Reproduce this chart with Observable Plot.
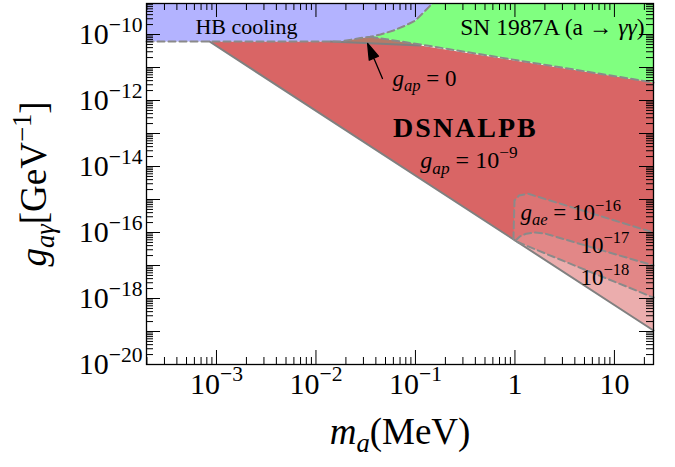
<!DOCTYPE html>
<html><head><meta charset="utf-8">
<script src="https://cdn.jsdelivr.net/npm/d3@7"></script>
<script src="https://cdn.jsdelivr.net/npm/@observablehq/plot@0.6"></script>
<style>body{margin:0;background:#fff;} svg{display:block}</style>
</head><body><div id="chart"></div>
<script>
// ---- axes (mass in MeV, coupling in GeV^-1) ----
const massDomain = [1.98e-4, 24.7];
const couplingDomain = [1e-20, 8.7e-10];
const massTicks = [1e-3, 1e-2, 1e-1, 1, 10];
const massTickLabels = ["10^{−3}", "10^{−2}", "10^{−1}", "1", "10"];
const massDecades = [1e-4, 1e-3, 1e-2, 1e-1, 1, 10];
const couplingDecades = [1e-20, 1e-19, 1e-18, 1e-17, 1e-16, 1e-15, 1e-14, 1e-13, 1e-12, 1e-11, 1e-10];
const couplingTicks = [1e-20, 1e-18, 1e-16, 1e-14, 1e-12, 1e-10];
const couplingTickLabels = ["10^{−20}", "10^{−18}", "10^{−16}", "10^{−14}", "10^{−12}", "10^{−10}"];
const minorSteps = [2, 3, 4, 5, 6, 7, 8, 9];

// ---- curves [mass, coupling] ----
const hbBoundary = [[1.98e-4, 6.14e-11], [0.0176, 6.14e-11], [0.028, 7.8e-11], [0.0353, 8.5e-11], [0.0445, 1.0e-10],
  [0.0601, 1.32e-10], [0.0793, 1.87e-10], [0.1, 2.65e-10], [0.126, 5.33e-10], [0.148, 8.7e-10]];
const hbCorner = [[1.98e-4, 8.7e-10]];
const snBoundary = [[0.0353, 8.5e-11], [0.112, 4.98e-11], [24.7, 3.51e-12]];
const snCorner = [[24.7, 8.7e-10]];
const dsnalpbLower = [[8.5e-4, 6.14e-11], [24.7, 1.07e-19]];
const dsnalpbUpper = [[8.5e-4, 6.14e-11], [0.014, 6.14e-11], [0.112, 4.65e-11], [24.7, 3.51e-12]];
const gapZeroEdge = [[0.014, 6.14e-11], [0.112, 4.65e-11]];
const gapZeroWedge = [[0.014, 6.14e-11], [0.0176, 6.14e-11], [0.028, 7.8e-11], [0.0353, 8.5e-11], [0.112, 4.98e-11], [0.112, 4.65e-11]];
const gae16 = [[0.966, 6.2e-17], [0.98, 3.3e-16], [0.99, 9.3e-16], [1.1, 1.32e-15], [1.35, 1.5e-15], [5.74, 3.9e-16], [24.7, 1.0e-16]];
const gae17 = [[1.01, 5.66e-17], [1.12, 7.6e-17], [1.3, 9.2e-17], [1.6, 1.0e-16], [2.0, 9.3e-17], [24.7, 1.0e-17]];
const gae18 = [[1.06, 5.15e-17], [5.12, 7.3e-18], [24.7, 1.07e-18]];
const lowerCorner = [[24.7, 1.07e-19]];

// ---- annotations ----
const hbLabel = [{m: 2.0e-3, g: 1.75e-10, text: "HB cooling"}];
const snLabel = [{m: 2.38, g: 1.63e-10, text: "SN 1987A (a → *γγ*)"}];
const gapZeroLabel = [{m: 0.0587, g: 4.65e-12, text: "*g*_{*ap*} = 0"}];
const gapZeroArrow = [{m: 0.0466, g: 4.65e-12}];
const titleLabel = [{m: 0.318, g: 1.42e-13, text: "DSNALPB"}];
const gapLabel = [{m: 0.112, g: 1.5e-14, text: "*g*_{*ap*} = 10^{−9}"}];
const gaeLabels = [
  {m: 1.135, g: 3.9e-16, text: "*g*_{*ae*} = 10^{−16}"},
  {m: 4.55, g: 4.1e-17, text: "10^{−17}"},
  {m: 4.55, g: 4.4e-18, text: "10^{−18}"}
];

const W = 675, H = 467, mL = 146, mR = 22, mT = 3, mB = 103;
const plotW = W - mL - mR, plotH = H - mT - mB;
const major = 14, minor = 7;
const inRange = (v, d) => v >= d[0] * 0.9999 && v <= d[1] * 1.0001;
const massMinor = massDecades.flatMap(d => minorSteps.map(k => k * d)).filter(v => inRange(v, massDomain));
const couplingMinor = couplingDecades.flatMap(d => minorSteps.map(k => k * d)).filter(v => inRange(v, couplingDomain));

const xy = {x: d => d[0], y: d => d[1]};
const poly = (pts, fill) => Plot.line(pts, {...xy, fill, stroke: "none", curve: "linear-closed"});
const dashed = pts => Plot.line(pts, {...xy, stroke: "#8a8a8a", strokeWidth: 2, strokeDasharray: "7,4"});
const solid = pts => Plot.line(pts, {...xy, stroke: "#808080", strokeWidth: 2});

const arrowShape = {
  draw(context, l) {
    const h = 16, w = 5;
    context.moveTo(0, 0);
    context.lineTo(0, -l + h);
    context.moveTo(0, -l);
    context.lineTo(-w, -l + h);
    context.lineTo(w, -l + h);
    context.closePath();
  }
};

const chart = Plot.plot({
  width: W, height: H,
  marginLeft: mL, marginRight: mR, marginTop: mT, marginBottom: mB,
  x: {type: "log", domain: massDomain, axis: null},
  y: {type: "log", domain: couplingDomain, axis: null},
  style: {fontFamily: "'Liberation Serif', serif", background: "white", color: "black"},
  marks: [
    poly([...dsnalpbUpper, ...lowerCorner], "#d96565"),
    poly([...gae16, ...lowerCorner], "#dd7373"),
    poly([...gae17, ...lowerCorner], "#e28787"),
    poly([...gae18, ...lowerCorner], "#ebadad"),
    poly(gapZeroWedge, "#b57a68"),
    poly([...snBoundary, ...snCorner, ...hbBoundary.slice(3).reverse()], "#80ff80"),
    poly([...hbBoundary, ...hbCorner], "#b3b3ff"),
    solid(dsnalpbLower),
    solid(gapZeroEdge),
    dashed(hbBoundary),
    dashed(snBoundary),
    dashed(gae16),
    dashed(gae17),
    dashed(gae18),
    Plot.frame({stroke: "black", strokeWidth: 1.3}),
    Plot.tickX(massTicks, {x: d => d, insetTop: plotH - major, stroke: "black"}),
    Plot.tickX(massTicks, {x: d => d, insetBottom: plotH - major, stroke: "black"}),
    Plot.tickX(massMinor, {x: d => d, insetTop: plotH - minor, stroke: "black"}),
    Plot.tickX(massMinor, {x: d => d, insetBottom: plotH - minor, stroke: "black"}),
    Plot.tickY(couplingDecades, {y: d => d, insetRight: plotW - major, stroke: "black"}),
    Plot.tickY(couplingDecades, {y: d => d, insetLeft: plotW - major, stroke: "black"}),
    Plot.tickY(couplingMinor, {y: d => d, insetRight: plotW - minor, stroke: "black"}),
    Plot.tickY(couplingMinor, {y: d => d, insetLeft: plotW - minor, stroke: "black"}),
    Plot.text(massTicks, {x: d => d, text: (d, i) => massTickLabels[i], frameAnchor: "bottom", dy: 29, fontSize: 30, fill: "black"}),
    Plot.text(couplingTicks, {y: d => d, text: (d, i) => couplingTickLabels[i], frameAnchor: "left", dx: -4, textAnchor: "end", fontSize: 30, fill: "black"}),
    Plot.text(["*m*_{*a*}(MeV)"], {frameAnchor: "bottom", dy: 79, fontSize: 37, textAnchor: "middle", fill: "black"}),
    Plot.text(["*g*_{*aγ*}[GeV^{−1}]"], {frameAnchor: "left", dx: -112, rotate: -90, textAnchor: "middle", fontSize: 37, fill: "black"}),
    Plot.text(hbLabel, {x: "m", y: "g", text: "text", fontSize: 22, fill: "black"}),
    Plot.text(snLabel, {x: "m", y: "g", text: "text", fontSize: 23.5, fill: "black"}),
    Plot.text(gapZeroLabel, {x: "m", y: "g", text: "text", textAnchor: "start", fontSize: 23, fill: "black"}),
    Plot.vector(gapZeroArrow, {x: "m", y: "g", length: 38, rotate: -23, anchor: "start", shape: arrowShape, fill: "black", stroke: "black", strokeWidth: 1.3}),
    Plot.text(titleLabel, {x: "m", y: "g", text: "text", fontSize: 28, fontWeight: "bold", fill: "black"}),
    Plot.text(gapLabel, {x: "m", y: "g", text: "text", textAnchor: "start", fontSize: 24, fill: "black"}),
    Plot.text(gaeLabels, {x: "m", y: "g", text: "text", textAnchor: "start", fontSize: 23, fill: "black"})
  ]
});
document.getElementById("chart").appendChild(chart);

function parseRich(s) {
  const out = [];
  let shift = 0, italic = false, buf = "";
  const flush = () => { if (buf) out.push({text: buf, italic, shift}); buf = ""; };
  for (let i = 0; i < s.length; i++) {
    const c = s[i];
    if ((c === "^" || c === "_") && s[i + 1] === "{") { flush(); shift = c === "^" ? 1 : -1; i++; continue; }
    if (c === "}") { flush(); shift = 0; continue; }
    if (c === "*") { flush(); italic = !italic; continue; }
    buf += c;
  }
  flush();
  return out;
}
chart.querySelectorAll("text").forEach(t => {
  const s = t.textContent;
  if (s === "DSNALPB") t.setAttribute("letter-spacing", "2");
  if (!/[\^_*]/.test(s)) return;
  const F = parseFloat(getComputedStyle(t).fontSize);
  const segs = parseRich(s);
  t.textContent = "";
  let cur = 0;
  for (const seg of segs) {
    const ts = document.createElementNS("http://www.w3.org/2000/svg", "tspan");
    const target = seg.shift === 1 ? -0.42 * F : seg.shift === -1 ? 0.22 * F : 0;
    if (target !== cur) ts.setAttribute("dy", target - cur);
    cur = target;
    if (seg.shift) ts.setAttribute("font-size", 0.72 * F);
    if (seg.italic) ts.setAttribute("font-style", "italic");
    ts.textContent = seg.text;
    t.appendChild(ts);
  }
});
</script></body></html>
